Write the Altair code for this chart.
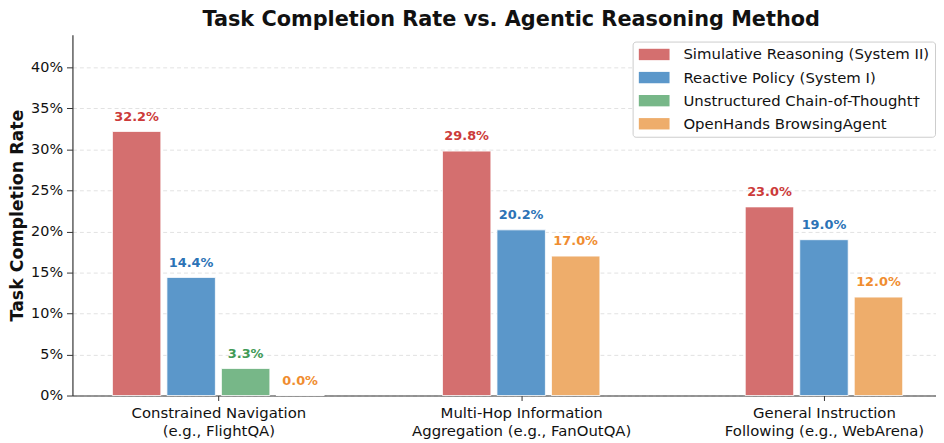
import altair as alt
import pandas as pd

# ---------------- data ----------------
cat_line1 = ["Constrained Navigation", "Multi-Hop Information", "General Instruction"]
cat_line2 = ["(e.g., FlightQA)", "Aggregation (e.g., FanOutQA)", "Following (e.g., WebArena)"]

methods = [
    "Simulative Reasoning (System II)",
    "Reactive Policy (System I)",
    "Unstructured Chain-of-Thought\u2020",
    "OpenHands BrowsingAgent",
]
# completion rate (%) per category; None = method not evaluated on that task
simulative = [32.2, 29.8, 23.0]
reactive = [14.4, 20.2, 19.0]
cot = [3.3, None, None]
openhands = [0.0, 17.0, 12.0]

bar_colors = ["#d46f6f", "#5b97ca", "#77b788", "#eead6b"]
text_colors = ["#cc3a3a", "#2c73b6", "#409a56", "#f08d30"]

series = [simulative, reactive, cot, openhands]
rows = []
for g in range(len(cat_line1)):
    present = [(m, s[g]) for m, s in zip(methods, series) if s[g] is not None]
    n = len(present)
    for slot, (m, v) in enumerate(present):
        center = g + (slot - (n - 1) / 2) * 0.18
        rows.append({
            "group": g,
            "method": m,
            "value": v,
            "x0": center - 0.08,
            "x1": center + 0.08,
            "xc": center,
            "label": f"{v:.1f}%",
        })
df = pd.DataFrame(rows)

FONT = "DejaVu Sans"

label_expr = " : ".join(
    f"datum.value == {i} ? ['{a}', '{b}']" for i, (a, b) in enumerate(zip(cat_line1, cat_line2))
) + " : ''"

xscale = alt.Scale(domain=[-0.482, 2.37], nice=False, zero=False)
yscale = alt.Scale(domain=[0, 44], nice=False)

base = alt.Chart(df)

bars = base.mark_bar(stroke="white", strokeWidth=0.8).encode(
    x=alt.X(
        "x0:Q",
        scale=xscale,
        axis=alt.Axis(
            values=[0, 1, 2],
            labelExpr=label_expr,
            title=None,
            grid=False,
            labelFont=FONT,
            labelFontSize=15,
            labelColor="#111111",
            labelLineHeight=18,
            labelBaseline="top",
            labelPadding=5,
            labelLimit=0,
            tickSize=5,
            tickColor="#333333",
            domainColor="#333333",
            domainWidth=1.2,
        ),
    ),
    x2="x1:Q",
    y=alt.Y(
        "value:Q",
        scale=yscale,
        axis=alt.Axis(
            values=[0, 5, 10, 15, 20, 25, 30, 35, 40],
            labelExpr="datum.value + '%'",
            title="Task Completion Rate",
            titleFont=FONT,
            titleFontSize=17.5,
            titleFontWeight="bold",
            titleColor="#111111",
            titlePadding=4,
            labelFont=FONT,
            labelFontSize=14.5,
            labelColor="#111111",
            labelPadding=4,
            labelLimit=0,
            tickSize=6,
            tickColor="#333333",
            domainColor="#333333",
            domainWidth=1.2,
            grid=True,
            gridDash=[4, 3],
            gridColor="#e2e2e2",
            gridWidth=1,
        ),
    ),
    y2=alt.datum(0),
    color=alt.Color(
        "method:N",
        scale=alt.Scale(domain=methods, range=bar_colors),
        legend=alt.Legend(
            title=None,
            orient="none",
            legendX=565,
            legendY=7,
            labelFont=FONT,
            labelFontSize=15,
            labelColor="#111111",
            labelOffset=21.5,
            labelLimit=0,
            symbolType="M-2,-0.74H2V0.74H-2Z",
            symbolSize=240,
            symbolOffset=8.75,
            symbolStrokeWidth=0,
            symbolOpacity=1,
            rowPadding=7.3,
            padding=5,
            strokeColor="#cccccc",
            fillColor="white",
            cornerRadius=3,
        ),
    ),
)

texts = base.mark_text(
    font=FONT, fontSize=13, fontWeight="bold", baseline="bottom", dy=-8
).encode(
    x=alt.X("xc:Q", scale=xscale),
    y=alt.Y("value:Q", scale=yscale),
    text="label:N",
    color=alt.Color(
        "method:N",
        scale=alt.Scale(domain=methods, range=text_colors),
        legend=None,
    ),
)

chart = (
    alt.layer(bars, texts)
    .resolve_scale(color="independent")
    .properties(
        width=871,
        height=364,
        autosize=alt.AutoSizeParams(type="none"),
        padding={"left": 65, "top": 25, "right": 0, "bottom": 45},
        title=alt.TitleParams(
            "Task Completion Rate vs. Agentic Reasoning Method",
            font=FONT,
            fontSize=21,
            fontWeight="bold",
            color="#111111",
            anchor="middle",
            baseline="bottom",
            offset=5,
            dy=21,
            dx=7,
        ),
    )
    .configure_view(strokeWidth=0)
)

chart.save("out.html", embed_options={"renderer": "svg", "actions": False})
